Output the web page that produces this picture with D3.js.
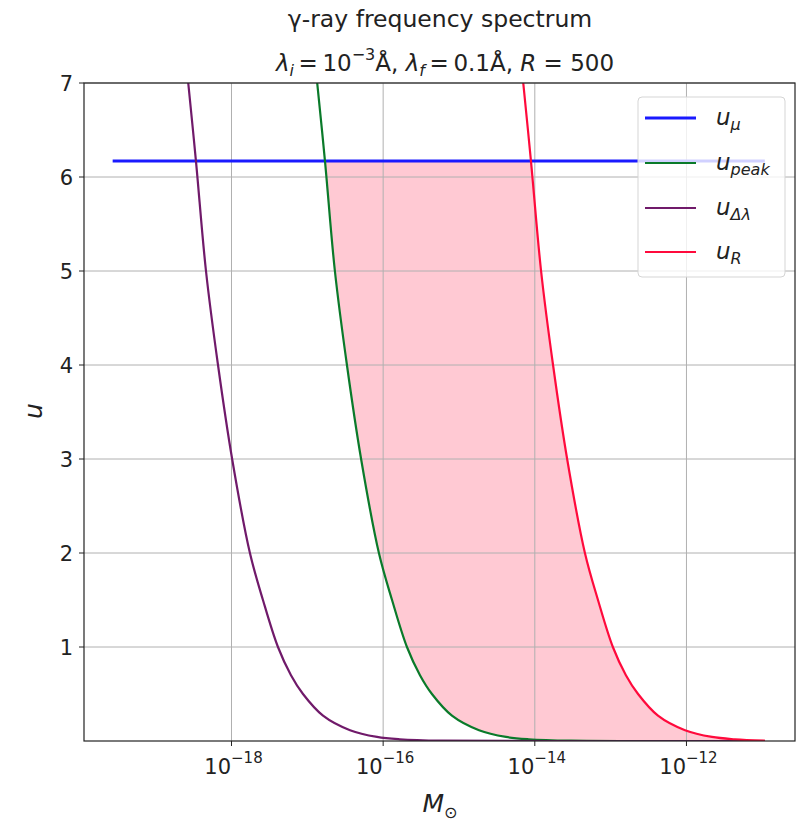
<!DOCTYPE html>
<html><head><meta charset="utf-8">
<script src="https://cdn.jsdelivr.net/npm/d3@7"></script>
<style>body{margin:0;background:#fff} text{font-family:"DejaVu Sans",sans-serif;fill:#222}</style>
</head><body><svg id="c" width="808" height="821"></svg>
<script>
// ---- data ----
const xTicks = [1e-18, 1e-16, 1e-14, 1e-12];
const xTickExp = ["\u221218", "\u221216", "\u221214", "\u221212"];
const yTicks = [1, 2, 3, 4, 5, 6, 7];

const muM = [2.71e-20, 1.08e-11];
const muU = [6.17, 6.17];

const dlM = [2.69e-19, 3.40e-19, 4.61e-19, 6.64e-19, 1.02e-18, 1.75e-18, 2.60e-18, 4.10e-18, 6.09e-18, 8.77e-18, 1.61e-17, 3.66e-17, 8.30e-17, 1.66e-16, 6.0e-16, 1.08e-11];
const dlU = [7, 6.17, 5, 4, 3, 2, 1.5, 1, 0.7, 0.5, 0.27, 0.115, 0.043, 0.018, 0.003, 0];

const peakM = [1.35e-17, 1.71e-17, 2.31e-17, 3.33e-17, 5.12e-17, 8.79e-17, 1.31e-16, 2.06e-16, 3.06e-16, 4.40e-16, 8.08e-16, 1.84e-15, 4.17e-15, 8.33e-15, 3.0e-14, 1.08e-11];
const peakU = [7, 6.17, 5, 4, 3, 2, 1.5, 1, 0.7, 0.5, 0.27, 0.115, 0.043, 0.018, 0.003, 0];

const rM = [7.04e-15, 8.90e-15, 1.21e-14, 1.74e-14, 2.67e-14, 4.58e-14, 6.81e-14, 1.07e-13, 1.59e-13, 2.30e-13, 4.21e-13, 9.58e-13, 2.17e-12, 4.35e-12, 1.08e-11];
const rU = [7, 6.17, 5, 4, 3, 2, 1.5, 1, 0.7, 0.5, 0.27, 0.115, 0.043, 0.018, 0.003];

const legendLabels = [["u", "\u03bc"], ["u", "peak"], ["u", "\u0394\u03bb"], ["u", "R"]];
const colors = {mu: "#1a1aff", peak: "#0a7a2a", dl: "#701a6a", r: "#ff0a3c"};

// ---- layout ----
const L = 84, R = 795, T = 83, B = 741;
const svg = d3.select("#c");
svg.append("rect").attr("width", 808).attr("height", 821).attr("fill", "#fff");

const x = d3.scaleLog().domain([1.135e-20, 2.70e-11]).range([L, R]);
const y = d3.scaleLinear().domain([0, 7]).range([B, T]);

svg.append("defs").append("clipPath").attr("id", "clip")
  .append("rect").attr("x", L).attr("y", T).attr("width", R - L).attr("height", B - T);

const fillG = svg.append("g").attr("clip-path", "url(#clip)");
const gridG = svg.append("g");
const lineG = svg.append("g").attr("clip-path", "url(#clip)");

// grid
gridG.selectAll("line.gx").data(xTicks).join("line")
  .attr("x1", d => x(d)).attr("x2", d => x(d)).attr("y1", T).attr("y2", B)
  .attr("stroke", "#b0b0b0").attr("stroke-width", 1);
gridG.selectAll("line.gy").data(yTicks).join("line")
  .attr("y1", d => y(d)).attr("y2", d => y(d)).attr("x1", L).attr("x2", R)
  .attr("stroke", "#b0b0b0").attr("stroke-width", 1);

const line = d3.line().x(d => x(d[0])).y(d => y(d[1])).curve(d3.curveCatmullRom.alpha(0.5));
const zip = (a, b) => a.map((v, i) => [v, b[i]]);

lineG.append("path").attr("d", line(zip(muM, muU))).attr("fill", "none").attr("stroke", colors.mu).attr("stroke-width", 3);
const pPeak = lineG.append("path").attr("d", line(zip(peakM, peakU))).attr("fill", "none").attr("stroke", colors.peak).attr("stroke-width", 2.2);
lineG.append("path").attr("d", line(zip(dlM, dlU))).attr("fill", "none").attr("stroke", colors.dl).attr("stroke-width", 2.2);
const pR = lineG.append("path").attr("d", line(zip(rM, rU))).attr("fill", "none").attr("stroke", colors.r).attr("stroke-width", 2.2);

// fill between u_peak and min(u_R, u_mu)
function sample(node, n) {
  const len = node.getTotalLength(), pts = [];
  for (let i = 0; i <= n; i++) { const p = node.getPointAtLength(len * i / n); pts.push([p.x, p.y]); }
  return pts;
}
const yMu = y(muU[0]);
const gPts = sample(pPeak.node(), 1200).filter(p => p[1] >= yMu);
const rPts = sample(pR.node(), 1200).filter(p => p[1] >= yMu);
const poly = [[gPts[0][0], yMu], ...gPts, ...rPts.slice().reverse(), [rPts[0][0], yMu]];
fillG.append("path").attr("d", "M" + poly.map(p => p.join(",")).join("L") + "Z")
  .attr("fill", "#ffc0cb").attr("fill-opacity", 0.85);

// axes frame
svg.append("rect").attr("x", L).attr("y", T).attr("width", R - L).attr("height", B - T)
  .attr("fill", "none").attr("stroke", "#222").attr("stroke-width", 1.2);

// y ticks
const yt = svg.append("g");
yt.selectAll("line").data(yTicks).join("line")
  .attr("x1", L - 5).attr("x2", L).attr("y1", d => y(d)).attr("y2", d => y(d)).attr("stroke", "#222");
yt.selectAll("text").data(yTicks).join("text")
  .attr("x", L - 11).attr("y", d => y(d) + 8).attr("text-anchor", "end").attr("font-size", 21).text(d => d);

// x ticks
const xt = svg.append("g");
xt.selectAll("line").data(xTicks).join("line")
  .attr("x1", d => x(d)).attr("x2", d => x(d)).attr("y1", B).attr("y2", B + 5).attr("stroke", "#222");
xTicks.forEach((d, i) => {
  const t = xt.append("text").attr("x", x(d) + 2).attr("y", B + 33).attr("text-anchor", "middle").attr("font-size", 21);
  t.append("tspan").text("10");
  t.append("tspan").attr("font-size", 15).attr("dy", -11).text(xTickExp[i]);
});

// axis labels
const xl = svg.append("text").attr("x", 440).attr("y", 812).attr("text-anchor", "middle").attr("font-size", 25);
xl.append("tspan").attr("font-style", "italic").text("M");
xl.append("tspan").attr("font-size", 16).attr("dy", 6).text("\u2299");
svg.append("text").attr("transform", "translate(42,411) rotate(-90)").attr("text-anchor", "middle")
  .attr("font-size", 25).attr("font-style", "italic").text("u");

// title
svg.append("text").attr("x", 440).attr("y", 27).attr("text-anchor", "middle").attr("font-size", 23.5)
  .text("\u03b3-ray frequency spectrum");
const t2 = svg.append("text").attr("x", 445).attr("y", 71).attr("text-anchor", "middle").attr("font-size", 23);
t2.append("tspan").attr("font-style", "italic").text("\u03bb");
t2.append("tspan").attr("font-style", "italic").attr("font-size", 16).attr("dy", 5).text("i");
t2.append("tspan").attr("dy", -5).text("\u2009=\u200910");
t2.append("tspan").attr("font-size", 16).attr("dy", -11).text("\u22123");
t2.append("tspan").attr("dy", 11).text("\u00c5, ");
t2.append("tspan").attr("font-style", "italic").text("\u03bb");
t2.append("tspan").attr("font-style", "italic").attr("font-size", 16).attr("dy", 5).text("f");
t2.append("tspan").attr("dy", -5).text("\u2009=\u20090.1\u00c5, ");
t2.append("tspan").attr("font-style", "italic").text("R");
t2.append("tspan").text(" = 500");

// legend
const lg = svg.append("g");
lg.append("rect").attr("x", 638).attr("y", 97).attr("width", 147).attr("height", 180).attr("rx", 4)
  .attr("fill", "#fff").attr("fill-opacity", 0.8).attr("stroke", "#d5d5d5");
const lc = [colors.mu, colors.peak, colors.dl, colors.r];
const ly = [118, 163, 208, 252];
legendLabels.forEach((lab, i) => {
  lg.append("line").attr("x1", 645).attr("x2", 696).attr("y1", ly[i]).attr("y2", ly[i])
    .attr("stroke", lc[i]).attr("stroke-width", i === 0 ? 3 : 2.2);
  const t = lg.append("text").attr("x", 716).attr("y", ly[i] + 7).attr("font-size", 23).attr("font-style", "italic");
  t.append("tspan").text(lab[0]);
  t.append("tspan").attr("font-size", 16).attr("dy", 5).text(lab[1]);
});
</script></body></html>
